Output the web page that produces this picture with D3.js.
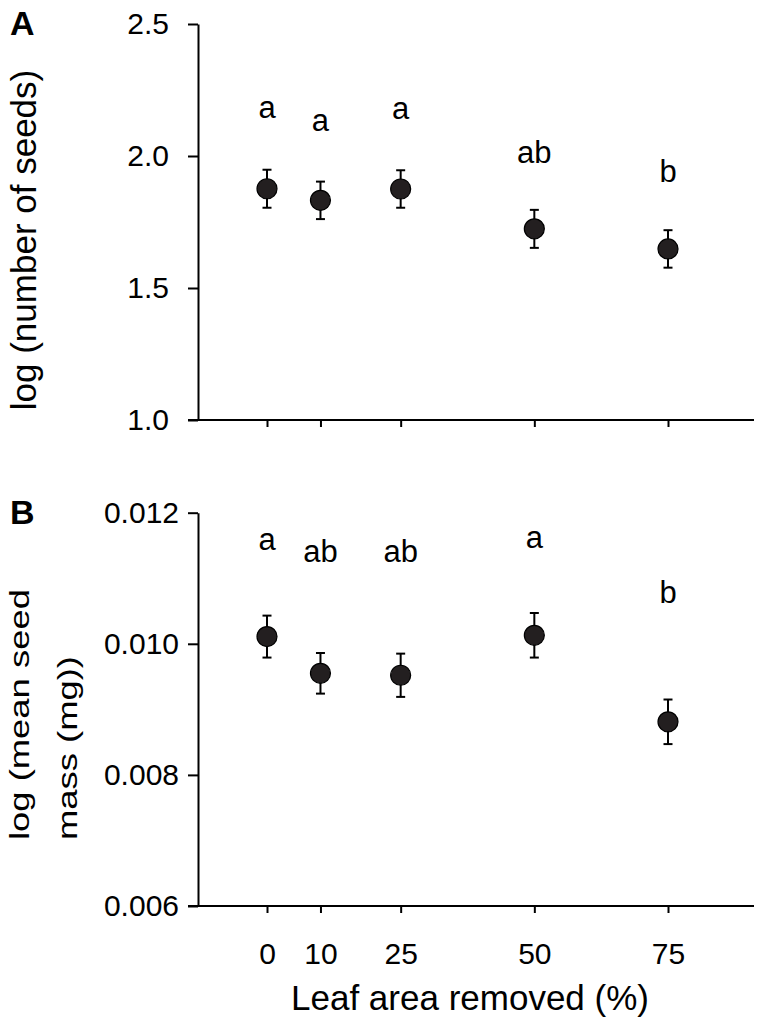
<!DOCTYPE html>
<html>
<head>
<meta charset="utf-8">
<script src="https://cdn.jsdelivr.net/npm/d3@7"></script>
<style>
  html, body { margin: 0; padding: 0; background: #fff; }
  svg text { font-family: "Liberation Sans", Arial, sans-serif; fill: #000; }
</style>
</head>
<body>
<svg id="chart" width="761" height="1034"></svg>
<script>
// leaf area removed (%)
const leafRemoved = [0, 10, 25, 50, 75];

// panel A: log(number of seeds)
const seedsMean = [1.876, 1.832, 1.875, 1.724, 1.648];
const seedsSE = [0.072, 0.071, 0.071, 0.072, 0.071];
const seedsLetters = ['a', 'a', 'a', 'ab', 'b'];
const seedsLetterAt = [2.144, 2.095, 2.140, 1.973, 1.902];

// panel B: log(mean seed mass (mg))
const massMean = [0.01011, 0.00955, 0.00952, 0.01013, 0.00881];
const massSE = [0.00032, 0.00031, 0.00033, 0.00034, 0.00034];
const massLetters = ['a', 'ab', 'ab', 'a', 'b'];
const massLetterAt = [0.01143, 0.01125, 0.01125, 0.01146, 0.01062];

const xTicks = [0, 10, 25, 50, 75];
const yTicksA = [1.0, 1.5, 2.0, 2.5];
const yTicksB = [0.006, 0.008, 0.010, 0.012];

const axisX = 198;        // y axis position
const axisRight = 754;    // end of x axis line

const svg = d3.select('#chart');

const xScale = d3.scaleLinear().domain([0, 75]).range([267, 668]);

function drawPanel(opts) {
  const y = d3.scaleLinear().domain(opts.domain).range([opts.bottom, opts.top]);
  const g = svg.append('g');

  // x axis line (extends a little left of the y axis)
  g.append('line')
    .attr('x1', axisX - 10).attr('x2', axisRight)
    .attr('y1', opts.bottom).attr('y2', opts.bottom)
    .attr('stroke', '#000').attr('stroke-width', 2);

  const xAxis = g.append('g')
    .attr('transform', `translate(0,${opts.bottom})`)
    .call(d3.axisBottom(xScale).tickValues(xTicks).tickSize(7).tickPadding(30)
      .tickFormat(opts.showXLabels ? d3.format('d') : () => ''));
  xAxis.select('.domain').remove();
  xAxis.selectAll('.tick line').attr('stroke', '#000').attr('stroke-width', 2);
  xAxis.selectAll('.tick text').style('font-size', '30px').attr('fill', '#000');

  const yAxis = g.append('g')
    .attr('transform', `translate(${axisX},0)`)
    .call(d3.axisLeft(y).tickValues(opts.ticks).tickSize(10).tickSizeOuter(0)
      .tickPadding(opts.tickPad).tickFormat(d3.format(opts.fmt)));
  yAxis.select('.domain').attr('stroke', '#000').attr('stroke-width', 2);
  yAxis.selectAll('.tick line').attr('stroke', '#000').attr('stroke-width', 2);
  yAxis.selectAll('.tick text').style('font-size', '30px').attr('fill', '#000');

  const rows = leafRemoved.map((v, i) => ({
    x: v, m: opts.mean[i], se: opts.se[i], letter: opts.letters[i], at: opts.letterAt[i]
  }));

  const bars = g.append('g').attr('stroke', '#000').attr('stroke-width', 2);
  bars.selectAll('line.v').data(rows).join('line').attr('class', 'v')
    .attr('x1', d => xScale(d.x)).attr('x2', d => xScale(d.x))
    .attr('y1', d => y(d.m - d.se)).attr('y2', d => y(d.m + d.se));
  bars.selectAll('line.top').data(rows).join('line').attr('class', 'top')
    .attr('x1', d => xScale(d.x) - 4.5).attr('x2', d => xScale(d.x) + 4.5)
    .attr('y1', d => y(d.m + d.se)).attr('y2', d => y(d.m + d.se));
  bars.selectAll('line.bot').data(rows).join('line').attr('class', 'bot')
    .attr('x1', d => xScale(d.x) - 4.5).attr('x2', d => xScale(d.x) + 4.5)
    .attr('y1', d => y(d.m - d.se)).attr('y2', d => y(d.m - d.se));

  g.append('g').selectAll('circle').data(rows).join('circle')
    .attr('cx', d => xScale(d.x)).attr('cy', d => y(d.m)).attr('r', 10)
    .attr('fill', '#231f20').attr('stroke', '#000').attr('stroke-width', 1.2);

  g.append('g').selectAll('text').data(rows).join('text')
    .attr('x', d => xScale(d.x)).attr('y', d => y(d.at))
    .attr('text-anchor', 'middle').style('font-size', '31px')
    .text(d => d.letter);

  svg.append('text')
    .attr('x', 10).attr('y', opts.panelY)
    .style('font-size', '34px').style('font-weight', 'bold')
    .text(opts.panel);
}

drawPanel({
  domain: [1.0, 2.5], top: 24, bottom: 420, ticks: yTicksA, fmt: '.1f', tickPad: 19,
  mean: seedsMean, se: seedsSE, letters: seedsLetters, letterAt: seedsLetterAt,
  showXLabels: false, panel: 'A', panelY: 35
});

drawPanel({
  domain: [0.006, 0.012], top: 512.7, bottom: 906, ticks: yTicksB, fmt: '.3f', tickPad: 9,
  mean: massMean, se: massSE, letters: massLetters, letterAt: massLetterAt,
  showXLabels: true, panel: 'B', panelY: 524
});

// y titles
svg.append('text')
  .attr('transform', 'translate(36,240) rotate(-90)')
  .attr('text-anchor', 'middle').style('font-size', '35px')
  .text('log (number of seeds)');

// panel B title is stretched along its length in the original
svg.append('text')
  .attr('transform', 'translate(29,840) rotate(-90) scale(1.3,1)')
  .attr('text-anchor', 'start').style('font-size', '28px')
  .text('log (mean seed');
svg.append('text')
  .attr('transform', 'translate(77,840) rotate(-90) scale(1.3,1)')
  .attr('text-anchor', 'start').style('font-size', '28px')
  .text('mass (mg))');

// x title
svg.append('text')
  .attr('x', 470).attr('y', 1010)
  .attr('text-anchor', 'middle').style('font-size', '35px')
  .text('Leaf area removed (%)');
</script>
</body>
</html>
